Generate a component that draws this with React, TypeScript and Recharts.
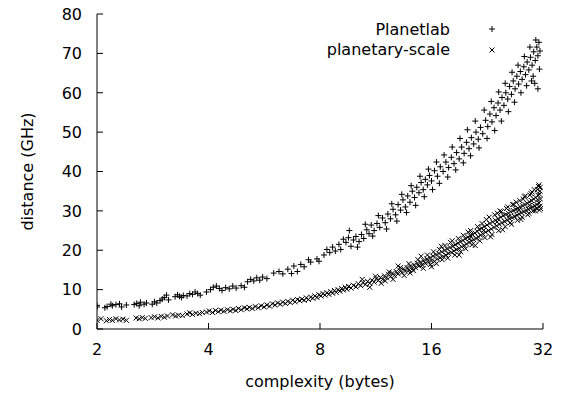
import { ScatterChart, Scatter, XAxis, YAxis } from "recharts";

const xTicks = [2, 4, 8, 16, 32];
const yTicks = [0, 10, 20, 30, 40, 50, 60, 70, 80];

// Planetlab (+ marks)
const planetlab: [number, number][] = [
  [2.0, 6.0], [2.0, 5.6], [2.1, 5.4], [2.13, 5.7], [2.18, 6.3], [2.2, 5.9], [2.25, 6.2], [2.3, 6.4], [2.33, 5.6], [2.4, 6.1],
  [2.52, 6.2], [2.56, 6.5], [2.6, 5.9], [2.62, 6.8], [2.68, 6.3], [2.72, 6.6],
  [2.82, 6.3], [2.86, 6.9], [2.9, 6.6], [2.96, 7.2], [3.0, 7.6], [3.04, 8.0], [3.08, 8.6], [3.12, 7.4],
  [3.25, 8.2], [3.3, 8.7], [3.34, 8.3], [3.38, 8.0], [3.42, 8.5],
  [3.5, 8.4], [3.56, 9.0], [3.62, 8.8], [3.68, 9.4], [3.74, 9.0], [3.8, 8.6],
  [3.95, 9.4], [4.05, 10.0], [4.12, 10.6], [4.2, 10.9], [4.28, 10.3],
  [4.35, 9.8], [4.45, 10.5], [4.55, 10.2], [4.65, 10.9], [4.75, 10.4], [4.9, 11.0], [5.0, 10.6],
  [5.1, 12.0], [5.2, 12.6], [5.3, 12.2], [5.4, 13.0], [5.5, 12.4], [5.6, 13.2], [5.75, 12.8],
  [6.0, 14.2], [6.2, 14.6], [6.35, 14.0],
  [6.55, 15.2], [6.7, 14.1], [6.8, 16.0], [6.95, 14.6], [7.1, 16.4], [7.25, 15.8],
  [7.45, 17.6], [7.55, 17.0], [7.85, 17.8], [7.95, 17.2],
  [8.2, 18.8], [8.35, 20.2], [8.5, 19.4], [8.65, 20.8], [8.8, 19.8],
  [9.0, 21.5], [9.1, 20.2], [9.25, 22.8], [9.4, 22.0], [9.55, 23.2],
  [9.7, 21.0], [9.85, 22.6], [10.0, 23.5], [10.2, 22.2], [10.35, 24.0], [10.5, 23.0], [10.7, 25.2], [10.85, 24.2],
  [11.0, 26.4], [11.2, 25.0], [11.4, 26.8], [11.6, 25.8],
  [11.8, 28.2], [12.0, 27.0], [12.2, 29.2], [12.4, 28.0], [12.6, 30.4], [12.8, 29.0], [13.0, 31.6], [13.2, 30.2],
  [13.4, 32.8], [13.6, 31.0], [13.8, 33.8], [14.0, 32.2], [14.2, 35.0], [14.4, 33.4], [14.6, 36.0], [14.8, 34.6],
  [15.0, 37.2], [15.2, 35.4], [15.4, 38.0], [15.6, 36.6], [15.8, 39.0], [16.0, 37.6], [16.3, 40.2], [16.6, 38.8],
  [16.9, 41.2], [17.2, 40.0], [17.5, 42.4], [17.8, 41.0],
  [18.1, 43.6], [18.4, 42.0], [18.7, 44.8], [19.0, 43.2], [19.3, 46.2], [19.6, 44.6], [19.9, 47.4], [20.2, 45.8],
  [20.5, 48.6], [20.8, 47.0], [21.1, 50.0], [21.4, 48.2], [21.7, 51.2], [22.0, 49.6],
  [22.4, 53.0], [22.7, 51.4], [23.0, 54.6], [23.3, 52.6], [23.6, 56.2], [23.9, 54.2], [24.2, 57.4], [24.5, 55.6],
  [24.8, 58.8], [25.1, 56.8], [25.4, 60.0],
  [25.7, 58.4], [26.0, 61.6], [26.3, 59.6], [26.6, 63.0], [26.9, 61.0], [27.2, 64.2], [27.5, 62.2], [27.8, 65.4],
  [28.1, 63.4], [28.4, 66.6], [28.7, 64.6],
  [29.0, 67.8], [29.3, 65.8], [29.6, 69.0], [29.9, 67.0], [30.2, 70.4], [30.5, 68.2], [30.8, 71.6], [31.0, 69.4],
  [31.2, 72.8], [31.4, 70.6], [31.0, 61.0], [30.4, 62.4], [31.3, 66.0],
  [9.6, 25.0], [10.1, 20.8], [10.6, 26.6], [11.1, 23.6], [11.5, 28.8], [12.1, 25.4], [12.5, 31.8], [12.9, 27.4],
  [13.3, 34.2], [13.7, 29.6], [14.1, 36.4], [14.5, 31.4], [14.9, 38.8], [15.3, 33.6], [15.7, 40.6], [16.1, 35.4],
  [16.5, 42.4], [16.8, 37.0], [17.3, 44.2], [17.7, 38.6], [18.2, 46.2], [18.6, 40.4], [19.1, 48.4], [19.5, 42.2],
  [20.0, 50.6], [20.4, 44.0], [21.0, 52.8], [21.5, 46.0], [22.2, 55.6], [22.6, 48.4], [23.2, 57.8], [23.7, 50.4],
  [24.3, 60.2], [24.7, 52.8], [25.3, 62.4], [25.8, 55.2], [26.4, 65.2], [26.8, 57.6], [27.4, 67.0], [27.9, 60.0],
  [28.5, 69.2], [28.9, 61.8], [29.5, 71.6], [29.8, 63.0], [30.6, 73.4], [30.1, 64.2],
];

// planetary-scale (x marks)
const planetaryScale: [number, number][] = [
  [2.0, 2.2], [2.05, 2.6], [2.12, 2.1], [2.16, 2.4], [2.2, 2.2], [2.25, 2.6], [2.3, 2.3], [2.35, 2.5], [2.4, 2.2],
  [2.55, 2.8], [2.6, 2.6], [2.65, 2.9], [2.7, 2.7],
  [2.8, 2.9], [2.86, 3.1], [2.92, 2.8], [2.98, 3.2], [3.04, 3.0], [3.1, 3.3],
  [3.2, 3.6], [3.26, 3.3], [3.32, 3.5], [3.4, 3.4],
  [3.5, 3.8], [3.56, 4.1], [3.62, 3.7], [3.7, 4.0], [3.78, 3.9], [3.85, 4.2],
  [3.95, 4.3], [4.02, 4.6], [4.1, 4.2], [4.18, 4.7], [4.25, 4.4], [4.32, 4.8],
  [4.4, 4.5], [4.5, 4.9], [4.58, 4.6], [4.66, 5.0], [4.74, 4.7], [4.82, 5.2], [4.9, 4.9], [5.0, 5.4], [5.08, 5.1],
  [5.16, 5.5], [5.25, 5.2], [5.35, 5.7], [5.45, 5.4], [5.55, 5.9], [5.65, 5.6], [5.75, 6.1], [5.85, 5.8], [5.95, 6.4],
  [6.05, 6.1], [6.15, 6.6], [6.25, 6.3], [6.35, 6.8], [6.45, 6.5], [6.55, 7.0], [6.65, 6.7], [6.75, 7.3], [6.85, 6.9],
  [6.95, 7.5], [7.05, 7.2], [7.15, 7.6], [7.25, 7.3], [7.35, 7.9], [7.45, 7.5], [7.55, 8.1], [7.65, 7.8], [7.75, 8.4],
  [7.85, 8.0], [7.95, 8.7],
  [8.05, 8.4], [8.15, 9.0], [8.25, 8.6], [8.35, 9.2], [8.45, 8.8], [8.55, 9.5], [8.65, 9.1], [8.75, 9.8], [8.85, 9.3],
  [8.95, 10.0], [9.05, 9.6], [9.15, 10.3], [9.25, 9.9], [9.35, 10.6], [9.45, 10.1], [9.55, 10.8], [9.7, 10.4],
  [9.85, 11.1], [10.0, 10.7], [10.15, 11.5], [10.3, 11.0], [10.45, 11.8], [10.6, 11.3], [10.75, 12.1], [10.9, 11.6],
  [11.05, 12.4], [11.2, 11.9], [11.35, 12.8], [11.5, 12.3], [11.65, 13.1], [11.8, 12.6], [11.95, 13.5], [12.1, 13.0],
  [12.25, 13.9], [12.4, 13.3], [12.55, 14.2], [12.7, 13.6], [12.85, 14.6], [13.0, 14.0], [13.15, 14.9], [13.3, 14.3],
  [13.45, 15.3], [13.6, 14.7], [13.75, 15.6], [13.9, 15.0], [14.05, 16.0], [14.2, 15.3], [14.35, 16.3], [14.5, 15.6],
  [14.65, 16.7], [14.8, 16.0], [14.95, 17.0], [15.1, 16.3], [15.25, 17.4], [15.4, 16.7], [15.55, 17.8], [15.7, 17.0],
  [15.85, 18.1], [16.0, 17.3],
  [16.15, 18.5], [16.3, 17.2], [16.45, 18.9], [16.6, 17.8], [16.75, 19.2], [16.9, 18.1], [17.05, 19.6], [17.2, 18.4],
  [17.35, 20.0], [17.5, 18.8], [17.65, 20.3], [17.8, 19.2], [17.95, 20.7], [18.1, 19.5], [18.25, 21.0], [18.4, 19.8],
  [18.55, 21.4], [18.7, 20.2], [18.85, 21.8], [19.0, 20.5], [19.15, 22.1], [19.3, 20.9], [19.45, 22.5], [19.6, 21.2],
  [19.75, 22.9], [19.9, 21.6], [20.05, 23.3], [20.2, 22.0], [20.35, 23.7], [20.5, 22.3], [20.65, 24.0], [20.8, 22.7],
  [20.95, 24.4], [21.1, 23.0], [21.25, 24.8], [21.4, 23.4], [21.55, 25.2], [21.7, 23.8], [21.85, 25.6], [22.0, 24.2],
  [22.2, 26.0], [22.4, 24.6], [22.6, 26.4], [22.8, 25.0], [23.0, 26.8], [23.2, 25.4], [23.4, 27.2], [23.6, 25.8],
  [23.8, 27.6], [24.0, 26.2], [24.2, 28.0], [24.4, 26.6], [24.6, 28.4], [24.8, 27.0], [25.0, 28.8], [25.2, 27.3],
  [25.4, 29.1], [25.6, 27.6], [25.8, 29.4], [26.0, 28.0], [26.2, 29.8], [26.4, 28.3], [26.6, 30.1], [26.8, 28.6],
  [27.0, 30.4], [27.2, 28.9], [27.4, 30.7], [27.6, 29.2], [27.8, 31.0], [28.0, 29.5], [28.2, 31.3], [28.4, 29.8],
  [28.6, 31.6], [28.8, 30.1], [29.0, 31.9], [29.2, 30.4], [29.4, 32.3], [29.6, 30.7], [29.8, 32.6], [30.0, 31.0],
  [30.2, 33.0], [30.4, 31.3], [30.6, 33.4], [30.8, 31.6], [31.0, 34.0], [31.2, 32.0], [31.4, 35.0], [31.5, 33.0],
  [31.3, 30.2], [30.9, 35.4], [31.45, 36.0], [29.5, 34.0], [28.3, 33.0], [26.5, 31.6], [24.5, 30.0],
  [20.4, 25.0], [21.0, 21.2], [22.5, 27.8], [23.1, 23.4], [24.1, 29.4], [24.9, 25.2], [25.7, 31.0], [26.3, 26.6],
  [27.1, 32.2], [27.9, 27.8], [28.5, 33.6], [29.1, 29.0], [29.9, 34.8], [30.5, 30.0], [31.1, 36.2], [31.4, 31.2],
  [18.0, 22.0], [19.0, 18.8], [17.0, 21.0], [16.0, 15.8], [15.0, 18.5], [14.0, 14.2], [13.0, 16.0], [12.0, 12.2],
  [10.4, 12.6], [10.9, 10.6], [11.3, 13.4], [11.7, 11.6], [12.3, 14.5], [12.6, 12.6], [13.2, 15.6], [13.5, 13.6],
  [13.9, 16.6], [14.3, 14.8], [14.7, 17.6], [15.2, 15.4], [15.6, 18.8], [15.9, 16.4], [16.2, 19.6], [16.5, 16.6],
  [16.8, 20.2], [17.1, 17.6], [17.4, 21.2], [17.7, 18.0], [18.2, 22.4], [18.5, 18.8], [18.9, 23.0], [19.2, 19.6],
  [19.5, 23.8], [19.8, 20.4], [20.1, 24.6], [20.6, 21.4], [21.3, 26.0], [21.6, 22.4], [21.9, 26.8], [22.3, 23.2],
  [22.9, 28.4], [23.3, 24.0], [23.7, 29.0], [24.3, 25.0], [24.7, 29.8], [25.3, 26.0], [25.5, 30.6], [26.1, 27.0],
  [26.7, 31.6], [27.3, 27.6], [27.7, 32.6], [28.1, 28.4], [28.7, 33.8], [29.3, 29.4], [29.7, 34.4], [30.1, 30.0],
  [30.3, 35.4], [30.7, 30.6], [31.2, 36.6], [31.5, 30.6], [31.35, 34.2], [30.95, 32.8], [29.45, 31.4], [27.55, 30.2],
  [25.9, 28.6], [24.05, 27.2], [22.1, 25.0], [20.3, 23.0],
];

const toPoints = (pairs: [number, number][]) => pairs.map(([x, y]) => ({ x, y }));

const FONT = "'DejaVu Sans', sans-serif";
const TICK_LEN = 6;
const GAP = 15;

function PlusMark({ cx, cy }: any) {
  return <path d={`M${cx - 3},${cy}h6M${cx},${cy - 3}v6`} stroke="#000" strokeWidth={1} fill="none" />;
}

function CrossMark({ cx, cy }: any) {
  return (
    <path
      d={`M${cx - 2.5},${cy - 2.5}l5,5M${cx - 2.5},${cy + 2.5}l5,-5`}
      stroke="#000"
      strokeWidth={1}
      fill="none"
    />
  );
}

function BottomTick({ x, y, payload }: any) {
  const axisY = y - GAP;
  return (
    <g>
      <line x1={x} y1={axisY} x2={x} y2={axisY - TICK_LEN} stroke="#000" />
      <text x={x} y={y} dy="0.71em" textAnchor="middle" fontFamily={FONT} fontSize={16} fill="#000">
        {payload.value}
      </text>
    </g>
  );
}

function TopTick({ x, y }: any) {
  return <line x1={x} y1={y} x2={x} y2={y + TICK_LEN} stroke="#000" />;
}

function LeftTick({ x, y, payload }: any) {
  const axisX = x + GAP;
  return (
    <g>
      <line x1={axisX} y1={y} x2={axisX + TICK_LEN} y2={y} stroke="#000" />
      <text x={x} y={y} dy="0.36em" textAnchor="end" fontFamily={FONT} fontSize={16} fill="#000">
        {payload.value}
      </text>
    </g>
  );
}

function RightTick({ x, y }: any) {
  return <line x1={x} y1={y} x2={x - TICK_LEN} y2={y} stroke="#000" />;
}

function XLabel({ viewBox }: any) {
  return (
    <text x={viewBox.x + viewBox.width / 2} y={viewBox.y + 58} textAnchor="middle" fontFamily={FONT} fontSize={16} fill="#000">
      complexity (bytes)
    </text>
  );
}

function YLabel({ viewBox }: any) {
  const cx = viewBox.x + 33;
  const cy = viewBox.y + viewBox.height / 2;
  return (
    <text x={cx} y={cy} transform={`rotate(-90, ${cx}, ${cy})`} textAnchor="middle" fontFamily={FONT} fontSize={16} fill="#000">
      distance (GHz)
    </text>
  );
}

export default function App() {
  return (
    <div style={{ position: "absolute", left: 0, top: 0, width: 565, height: 397, background: "#fff" }}>
      <ScatterChart width={565} height={397} margin={{ top: 14, right: 22, bottom: 0, left: 0 }}>
        <XAxis
          dataKey="x"
          type="number"
          scale="log"
          domain={[2, 32]}
          ticks={xTicks}
          allowDataOverflow
          height={68}
          tickSize={0}
          tickMargin={GAP}
          tick={BottomTick}
          axisLine={{ stroke: "#000" }}
          label={<XLabel />}
        />
        <XAxis
          xAxisId="top"
          orientation="top"
          type="number"
          scale="log"
          domain={[2, 32]}
          ticks={xTicks}
          allowDataOverflow
          height={0}
          tickSize={0}
          tickMargin={0}
          tick={TopTick}
          axisLine={{ stroke: "#000" }}
        />
        <YAxis
          dataKey="y"
          type="number"
          domain={[0, 80]}
          ticks={yTicks}
          allowDataOverflow
          width={97}
          tickSize={0}
          tickMargin={GAP}
          tick={LeftTick}
          axisLine={{ stroke: "#000" }}
          label={<YLabel />}
        />
        <YAxis
          yAxisId="right"
          orientation="right"
          type="number"
          domain={[0, 80]}
          ticks={yTicks}
          allowDataOverflow
          width={0}
          tickSize={0}
          tickMargin={0}
          tick={RightTick}
          axisLine={{ stroke: "#000" }}
        />
        <Scatter name="Planetlab" data={toPoints(planetlab)} shape={PlusMark} isAnimationActive={false} />
        <Scatter name="planetary-scale" data={toPoints(planetaryScale)} shape={CrossMark} isAnimationActive={false} />
      </ScatterChart>
      <svg width={565} height={397} style={{ position: "absolute", left: 0, top: 0, pointerEvents: "none" }}>
        <text x={450} y={35} textAnchor="end" fontFamily={FONT} fontSize={16} fill="#000">Planetlab</text>
        <PlusMark cx={492} cy={29} />
        <text x={450} y={55} textAnchor="end" fontFamily={FONT} fontSize={16} fill="#000">planetary-scale</text>
        <CrossMark cx={492} cy={50} />
      </svg>
    </div>
  );
}
